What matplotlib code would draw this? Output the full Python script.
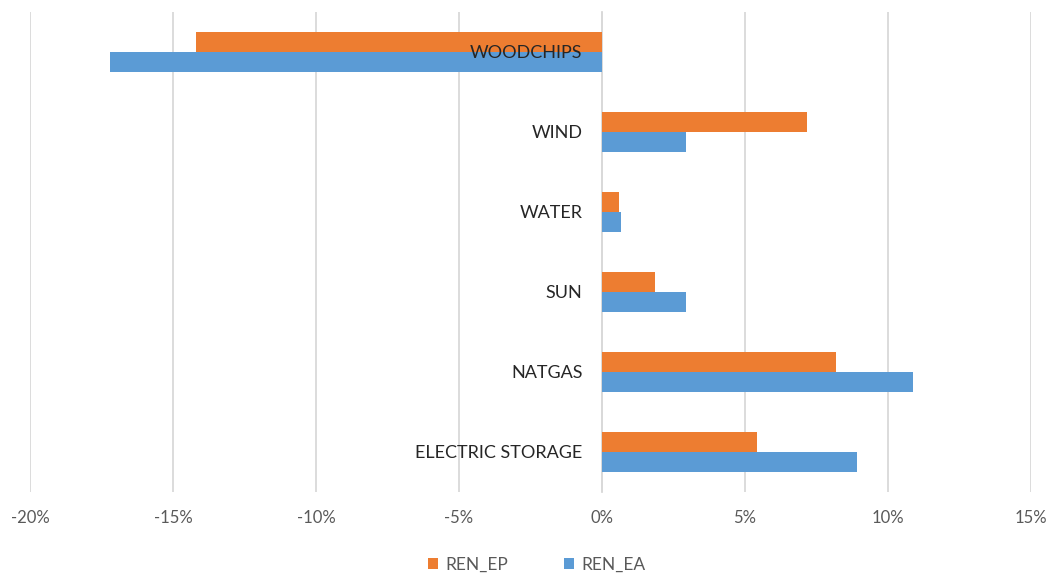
import matplotlib.pyplot as plt
import numpy as np
from matplotlib.ticker import FuncFormatter

# data, bottom to top as drawn
categories = ['ELECTRIC STORAGE', 'NATGAS', 'SUN', 'WATER', 'WIND', 'WOODCHIPS']
ren_ep = [5.43, 8.19, 1.86, 0.58, 7.18, -14.2]
ren_ea = [8.93, 10.86, 2.93, 0.65, 2.93, -17.2]
x_ticks = [-20, -15, -10, -5, 0, 5, 10, 15]

orange = '#ED7D31'
blue = '#5B9BD5'
grey_txt = '#595959'
grid_col = '#D9D9D9'

plt.rcParams['font.family'] = ['Lato', 'DejaVu Sans']

fig = plt.figure(figsize=(10.54, 5.77), dpi=100)
ax = fig.add_axes([30/1054, 1-492/577, (1031-30)/1054, (492-12)/577])

y = np.arange(len(categories))
h = 0.25
ax.barh(y + h/2, ren_ep, height=h, color=orange, label='REN_EP', zorder=2)
ax.barh(y - h/2, ren_ea, height=h, color=blue, label='REN_EA', zorder=2)

ax.set_xlim(-20, 15)
ax.set_ylim(-0.5, len(categories) - 0.5)
ax.set_xticks(x_ticks)
ax.xaxis.set_major_formatter(FuncFormatter(lambda v, p: f'{v:.0f}%'))
ax.grid(axis='x', color=grid_col, linewidth=1.3)
ax.set_axisbelow(True)
# category labels must sit on top of the woodchips bars
ax.yaxis.set_zorder(3)

# category labels sit at the zero line, like excel does it
ax.set_yticks(y)
ax.set_yticklabels(categories)
ax.spines['left'].set_position(('data', 0))
ax.spines['left'].set_color(grid_col)
ax.spines['left'].set_linewidth(1.3)
ax.spines['left'].set_zorder(1)
for s in ['top', 'right', 'bottom']:
    ax.spines[s].set_visible(False)
ax.tick_params(axis='y', length=0, pad=14, labelsize=13, labelcolor='#262626')
ax.tick_params(axis='x', length=0, pad=13, labelsize=12, labelcolor=grey_txt)

fig.legend(loc='lower center', bbox_to_anchor=(0.509, -0.02), ncol=2, frameon=False,
           fontsize=12.5, handlelength=0.6, handleheight=0.6, handletextpad=0.4,
           columnspacing=3.2, labelcolor=grey_txt)

fig.savefig('out.png', dpi=100)
